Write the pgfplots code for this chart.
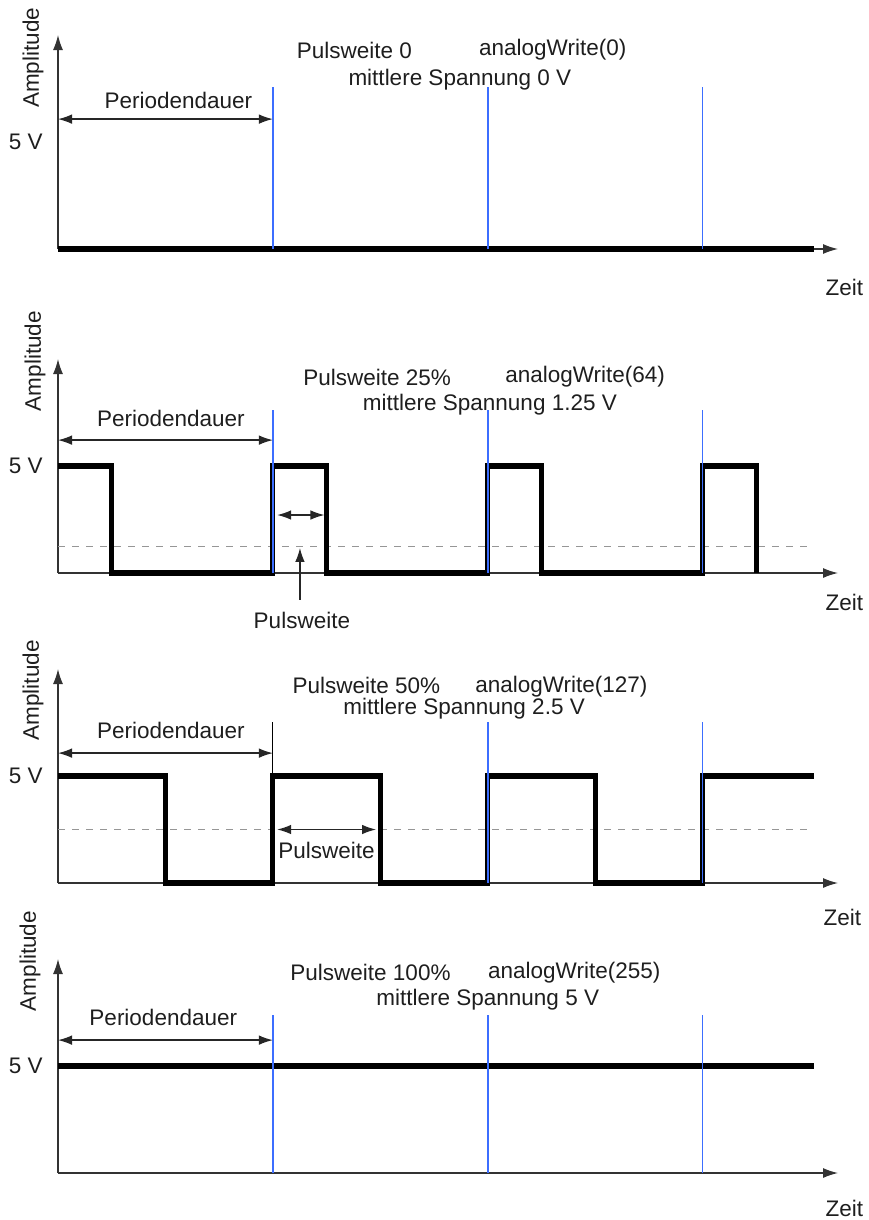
\documentclass[border=0pt]{standalone}
\usepackage{pgfplots}
\pgfplotsset{compat=1.18}
\usepackage{fontspec}
\setmainfont{Liberation Sans}
\usetikzlibrary{arrows.meta}
\definecolor{mblue}{RGB}{60,110,255}
\definecolor{dgray}{RGB}{150,150,150}
\definecolor{txt}{RGB}{30,30,30}
\newcommand\lf{\fontsize{11.25}{13}\selectfont}

\pgfplotsset{
 pwm/.style={
  scale only axis, width=390pt, height=107pt,
  xmin=0, xmax=3.63, ymin=0, ymax=10,
  axis lines=none,
  xtick=\empty, ytick=\empty,
  clip=false, anchor=south west,
 },
 axl/.style={black!80, line width=0.65pt, mark=none, -{Latex[length=7.5pt,width=5pt]}},
 sig/.style={black, line width=2.6pt, line join=miter, mark=none},
 bl/.style={mblue, line width=0.85pt, mark=none},
 dsh/.style={dgray, dash pattern=on 3.5pt off 3.5pt, line width=0.65pt, mark=none},
}
\tikzset{
 lab/.style={font=\lf, inner sep=0pt, text=txt},
 arr/.style={black!85, line width=0.65pt, {Latex[length=7pt,width=4.8pt]}-{Latex[length=7pt,width=4.8pt]}},
 arr1/.style={black!85, line width=0.65pt, -{Latex[length=7pt,width=4.8pt]}},
}

\begin{document}
\begin{tikzpicture}
\useasboundingbox (0,0) rectangle (434pt,-610pt);

% ---------- Panel 1: 0 %
\begin{axis}[pwm, at={(29pt,-124.5pt)}]
\addplot[axl] coordinates {(0,0) (3.63,0)};
\addplot[axl] coordinates {(0,0) (0,10)};
\addplot[sig] coordinates {(0,0) (3.52,0)};
\addplot[bl] coordinates {(1,0) (1,7.57)};
\addplot[bl] coordinates {(2,0) (2,7.57)};
\addplot[bl] coordinates {(3,0) (3,7.57)};
\draw[arr] (axis cs:0,6.07) -- (axis cs:1,6.07);
\node[lab] at (axis cs:0.56,6.96) {Periodendauer};
\node[lab, anchor=west] at (axis cs:1.11,9.3) {Pulsweite 0};
\node[lab, anchor=west] at (axis cs:1.958,9.3) {analogWrite(0)};
\node[lab] at (axis cs:1.87,7.9) {mittlere Spannung 0 V};
\node[lab, anchor=east, xshift=-7.5pt] at (axis cs:0,5) {5 V};
\node[lab, rotate=90] at (axis cs:-0.116,8.93) {Amplitude};
\node[lab] at (axis cs:3.66,-1.78) {Zeit};
\end{axis}

% ---------- Panel 2: 25 %
\begin{axis}[pwm, at={(29pt,-286.5pt)}]
\addplot[axl] coordinates {(0,0) (3.63,0)};
\addplot[axl] coordinates {(0,0) (0,10)};
\addplot[dsh] coordinates {(0,1.25) (3.5,1.25)};
\addplot[sig] coordinates {(0,5) (0.25,5) (0.25,0) (1,0) (1,5) (1.25,5) (1.25,0) (2,0) (2,5) (2.25,5) (2.25,0) (3,0) (3,5) (3.25,5) (3.25,0)};
\addplot[bl] coordinates {(1,0) (1,7.62)};
\addplot[bl] coordinates {(2,0) (2,7.62)};
\addplot[bl] coordinates {(3,0) (3,7.62)};
\draw[arr] (axis cs:0,6.21) -- (axis cs:1,6.21);
\draw[arr] (axis cs:1.02,2.71) -- (axis cs:1.24,2.71);
\draw[arr1] (axis cs:1.126,-1.26) -- (axis cs:1.126,1.17);
\node[lab] at (axis cs:1.135,-2.2) {Pulsweite};
\node[lab] at (axis cs:0.525,7.24) {Periodendauer};
\node[lab, anchor=west] at (axis cs:1.14,9.16) {Pulsweite 25\%};
\node[lab, anchor=west] at (axis cs:2.08,9.16) {analogWrite(64)};
\node[lab] at (axis cs:2.01,7.85) {mittlere Spannung 1.25 V};
\node[lab, anchor=east, xshift=-7.5pt] at (axis cs:0,5) {5 V};
\node[lab, rotate=90] at (axis cs:-0.107,9.9) {Amplitude};
\node[lab] at (axis cs:3.66,-1.36) {Zeit};
\end{axis}

% ---------- Panel 3: 50 %
\begin{axis}[pwm, at={(29pt,-441.5pt)}]
\addplot[axl] coordinates {(0,0) (3.63,0)};
\addplot[axl] coordinates {(0,0) (0,10)};
\addplot[dsh] coordinates {(0,2.5) (3.5,2.5)};
\addplot[sig] coordinates {(0,5) (0.5,5) (0.5,0) (1,0) (1,5) (1.5,5) (1.5,0) (2,0) (2,5) (2.5,5) (2.5,0) (3,0) (3,5) (3.52,5)};
\addplot[black, line width=0.6pt, mark=none] coordinates {(1,0) (1,7.52)};
\addplot[bl] coordinates {(2,0) (2,7.52)};
\addplot[bl] coordinates {(3,0) (3,7.52)};
\draw[arr] (axis cs:0,6.07) -- (axis cs:1,6.07);
\draw[arr] (axis cs:1.02,2.5) -- (axis cs:1.48,2.5);
\node[lab] at (axis cs:1.25,1.54) {Pulsweite};
\node[lab] at (axis cs:0.525,7.15) {Periodendauer};
\node[lab, anchor=west] at (axis cs:1.09,9.25) {Pulsweite 50\%};
\node[lab, anchor=west] at (axis cs:1.94,9.16) {analogWrite(127)};
\node[lab] at (axis cs:1.89,8.13) {mittlere Spannung 2.5 V};
\node[lab, anchor=east, xshift=-7.5pt] at (axis cs:0,5) {5 V};
\node[lab, rotate=90] at (axis cs:-0.116,9.0) {Amplitude};
\node[lab] at (axis cs:3.65,-1.59) {Zeit};
\end{axis}

% ---------- Panel 4: 100 %
\begin{axis}[pwm, at={(29pt,-586.5pt)}]
\addplot[axl] coordinates {(0,0) (3.63,0)};
\addplot[axl] coordinates {(0,0) (0,10)};
\addplot[sig] coordinates {(0,5) (3.52,5)};
\addplot[bl] coordinates {(1,0) (1,7.38)};
\addplot[bl] coordinates {(2,0) (2,7.38)};
\addplot[bl] coordinates {(3,0) (3,7.38)};
\draw[arr] (axis cs:0,6.21) -- (axis cs:1,6.21);
\node[lab] at (axis cs:0.49,7.29) {Periodendauer};
\node[lab, anchor=west] at (axis cs:1.08,9.35) {Pulsweite 100\%};
\node[lab, anchor=west] at (axis cs:2.0,9.35) {analogWrite(255)};
\node[lab] at (axis cs:2.0,8.08) {mittlere Spannung 5 V};
\node[lab, anchor=east, xshift=-7.5pt] at (axis cs:0,5) {5 V};
\node[lab, rotate=90] at (axis cs:-0.13,9.9) {Amplitude};
\node[lab] at (axis cs:3.66,-1.64) {Zeit};
\end{axis}
\end{tikzpicture}
\end{document}
